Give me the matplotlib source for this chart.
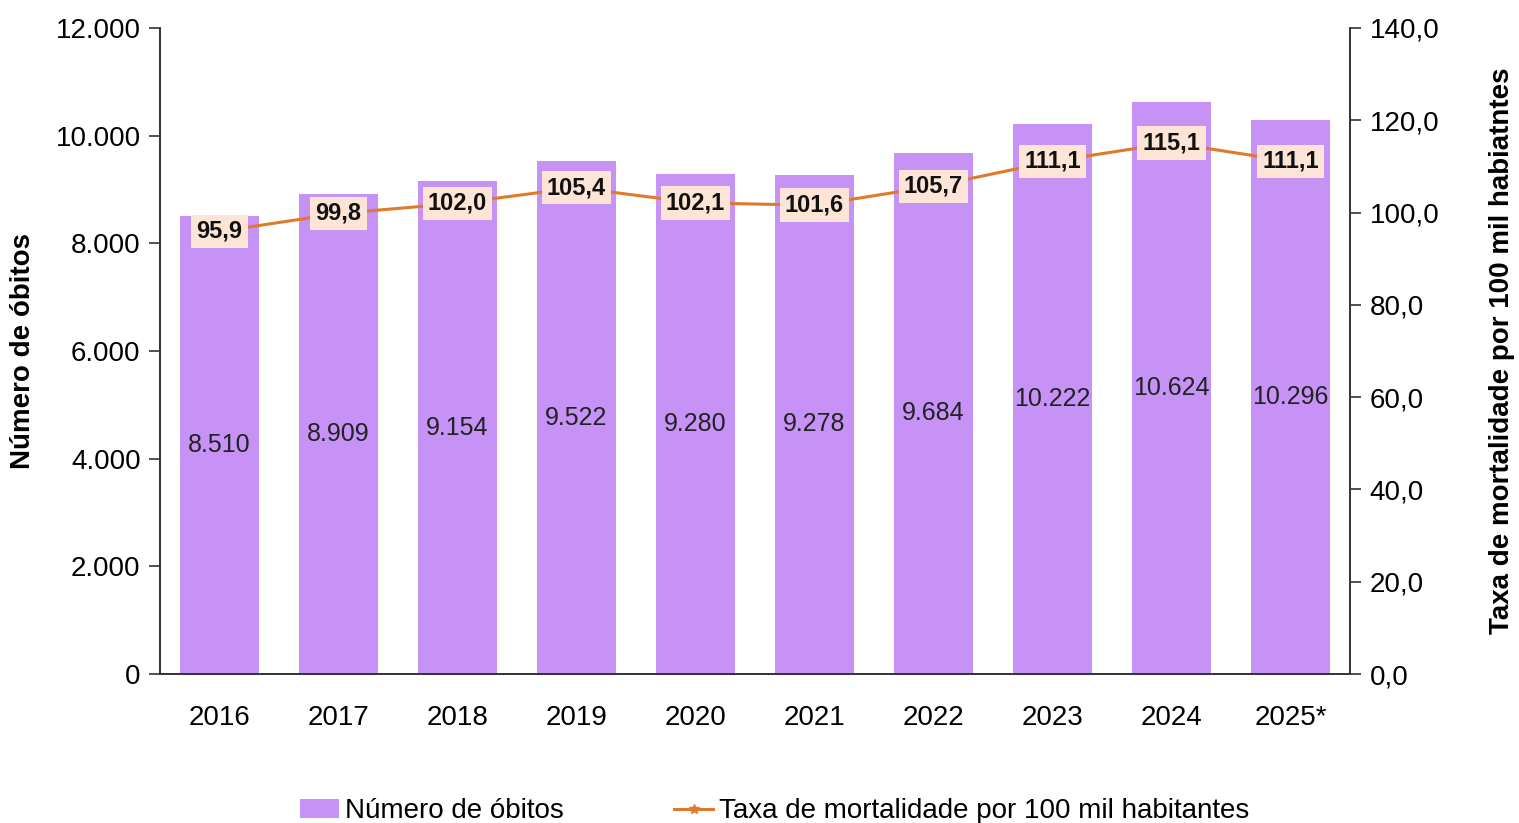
import matplotlib.pyplot as plt
import numpy as np
from matplotlib.ticker import FuncFormatter

plt.rcParams['font.family'] = ['Liberation Sans', 'DejaVu Sans']

# data
anos   = ["2016", "2017", "2018", "2019", "2020", "2021", "2022", "2023", "2024", "2025*"]
obitos = [8510, 8909, 9154, 9522, 9280, 9278, 9684, 10222, 10624, 10296]
taxa   = [95.9, 99.8, 102.0, 105.4, 102.1, 101.6, 105.7, 111.1, 115.1, 111.1]

cor_barra = "#C692F6"
cor_linha = "#E07A2A"
cor_caixa = "#FCE4D6"

def br(v, dec=0):
    s = f"{v:,.{dec}f}"
    return s.replace(",", "X").replace(".", ",").replace("X", ".")

fig = plt.figure(figsize=(15.19, 8.23), dpi=100)
ax = fig.add_axes([0.1053, 0.181, 0.7834, 0.785])
ax2 = ax.twinx()

x = np.arange(len(anos))
ax.bar(x, obitos, width=0.67, color=cor_barra, label="Número de óbitos", zorder=1)
for xi, v in zip(x, obitos):
    ax.text(xi, v / 2, br(v), ha="center", va="center", fontsize=18, color="#222222")

ax2.plot(x, taxa, color=cor_linha, lw=2.2, marker="*", ms=7,
         label="Taxa de mortalidade por 100 mil habitantes", zorder=2)
for xi, v in zip(x, taxa):
    ax2.text(xi, v, br(v, 1), ha="center", va="center", fontsize=17, fontweight="bold",
             color="#111111", zorder=3,
             bbox=dict(boxstyle="square,pad=0.22", fc=cor_caixa, ec="none"))

ax.set_xlim(-0.5, 9.5)
ax.set_ylim(0, 12000)
ax.set_yticks(np.arange(0, 12001, 2000))
ax.yaxis.set_major_formatter(FuncFormatter(lambda v, p: br(v)))
ax2.set_ylim(0, 140)
ax2.set_yticks(np.arange(0, 141, 20))
ax2.yaxis.set_major_formatter(FuncFormatter(lambda v, p: br(v, 1)))

ax.set_xticks(x)
ax.set_xticklabels(anos)
for a in (ax, ax2):
    a.spines["top"].set_visible(False)
    a.tick_params(axis="y", labelsize=20, length=8, width=1.2, color="#333333", pad=6)
    for s in a.spines.values():
        s.set_color("#333333")
        s.set_linewidth(1.2)
ax.tick_params(axis="x", labelsize=20, length=0, pad=22)

ax.set_ylabel("Número de óbitos", fontsize=20, fontweight="bold", labelpad=14)
ax2.set_ylabel("Taxa de mortalidade por 100 mil habiatntes", fontsize=20, fontweight="bold", labelpad=36)

h1, l1 = ax.get_legend_handles_labels()
h2, l2 = ax2.get_legend_handles_labels()
fig.legend(h1 + h2, l1 + l2, loc="lower center", bbox_to_anchor=(0.51, -0.032), ncol=2,
           frameon=False, fontsize=20, handlelength=1.4, handletextpad=0.2, columnspacing=4)

fig.savefig("out.png", dpi=100)
